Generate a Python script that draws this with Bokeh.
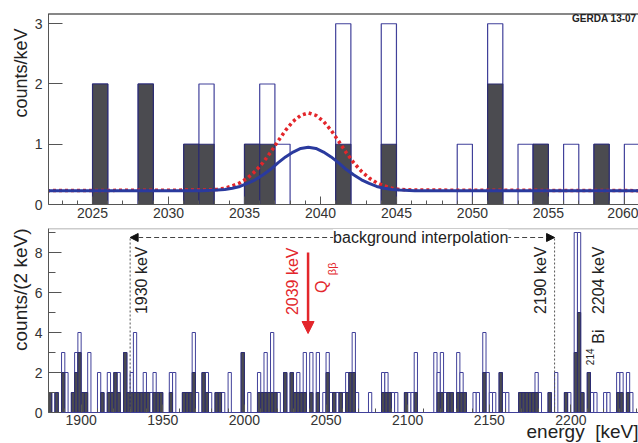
import numpy as np
from bokeh.plotting import figure
from bokeh.models import Range1d, Label, Title, Arrow, NormalHead, Span, FixedTicker
from bokeh.layouts import column
from bokeh.embed import file_html
from bokeh.resources import INLINE

FONT = "Liberation Sans"
NB = "\u00a0"
ZW = "\u200b"

# ---------------- top panel data (1 keV bins) ----------------
top_lo = [2025, 2028, 2031, 2032, 2035, 2036, 2037, 2041, 2044, 2049, 2051, 2053, 2054, 2056, 2058, 2060]
top_open = [2, 2, 1, 2, 1, 2, 1, 3, 3, 1, 3, 1, 1, 1, 1, 1]
top_filled = [2, 2, 1, 1, 1, 1, 0, 1, 1, 0, 2, 0, 1, 0, 1, 0]

curve_e = [2022.0, 2032.2, 2033.2, 2033.7, 2034.2, 2034.7, 2035.2, 2035.7, 2036.2, 2036.7,
           2037.2, 2037.7, 2038.2, 2038.7, 2039.2, 2039.7, 2040.2, 2040.7, 2041.2, 2041.7,
           2042.2, 2042.7, 2043.2, 2043.7, 2044.2, 2044.7, 2045.2, 2046.2, 2061.0]
curve_fit = [0.23, 0.23, 0.24, 0.25, 0.27, 0.30, 0.35, 0.41, 0.49, 0.58, 0.69, 0.79, 0.87, 0.93, 0.95,
             0.93, 0.87, 0.79, 0.69, 0.58, 0.49, 0.41, 0.35, 0.30, 0.27, 0.25, 0.24, 0.23, 0.23]
curve_limit = [0.23, 0.24, 0.25, 0.27, 0.31, 0.36, 0.44, 0.55, 0.69, 0.86, 1.05, 1.23, 1.38, 1.48, 1.52,
               1.48, 1.38, 1.23, 1.05, 0.86, 0.69, 0.55, 0.44, 0.36, 0.31, 0.27, 0.25, 0.24, 0.23]

top_xticks = [2025, 2030, 2035, 2040, 2045, 2050, 2055, 2060]
top_yticks = [0, 1, 2, 3]

# ---------------- bottom panel data (2 keV bins) ----------------
bot_lo = [1880, 1882, 1884, 1888, 1890, 1894, 1896, 1898, 1900, 1902, 1904, 1910, 1912, 1916, 1918,
          1920, 1922, 1926, 1928, 1930, 1932, 1934, 1936, 1938, 1940, 1942, 1944, 1946, 1948, 1954,
          1956, 1962, 1964, 1966, 1968, 1970, 1974, 1976, 1978, 1982, 1984, 1986, 1990, 1998, 2002,
          2008, 2010, 2012, 2014, 2016, 2018, 2020, 2024, 2028, 2030, 2032, 2034, 2036, 2040, 2044,
          2048, 2050, 2052, 2054, 2056, 2058, 2060, 2062, 2064, 2066, 2068, 2076, 2084, 2086, 2088,
          2090, 2092, 2098, 2100, 2102, 2104, 2116, 2118, 2120, 2122, 2124, 2126, 2130, 2132, 2134,
          2140, 2142, 2146, 2148, 2150, 2152, 2156, 2158, 2160, 2168, 2170, 2172, 2174, 2176, 2178,
          2180, 2186, 2190, 2196, 2198, 2202, 2204, 2206, 2210, 2212, 2214, 2220, 2222, 2228, 2230,
          2234, 2236]
bot_open = [1, 1, 1, 3, 2, 1, 3, 4, 1, 1, 3, 2, 1, 2, 1,
            2, 2, 3, 1, 2, 4, 1, 1, 2, 1, 1, 2, 1, 1, 2,
            2, 1, 1, 1, 4, 1, 2, 2, 1, 1, 1, 1, 2, 3, 1,
            2, 1, 3, 1, 4, 1, 1, 2, 2, 1, 2, 1, 3, 3, 3,
            1, 3, 1, 1, 1, 1, 1, 2, 2, 4, 1, 1, 2, 2, 1,
            1, 1, 1, 1, 1, 3, 3, 2, 3, 1, 1, 1, 3, 2, 1,
            1, 1, 4, 2, 1, 1, 2, 1, 1, 1, 1, 1, 1, 1, 2,
            1, 1, 2, 1, 1, 9, 9, 1, 2, 1, 1, 1, 1, 2, 2,
            2, 1]
bot_filled = [1, 0, 1, 2, 0, 1, 2, 3, 1, 1, 0, 0, 1, 1, 1,
              2, 1, 3, 1, 1, 1, 1, 1, 1, 1, 0, 1, 1, 1, 1,
              0, 1, 1, 1, 2, 0, 2, 1, 0, 1, 1, 0, 0, 3, 0,
              1, 1, 1, 1, 1, 1, 0, 2, 2, 1, 1, 1, 1, 1, 1,
              0, 2, 0, 1, 0, 1, 0, 1, 2, 2, 0, 0, 1, 1, 1,
              0, 0, 1, 0, 0, 1, 0, 1, 1, 0, 1, 1, 1, 1, 1,
              0, 0, 2, 0, 0, 0, 2, 0, 0, 1, 1, 1, 1, 1, 1,
              0, 1, 0, 1, 0, 3, 5, 1, 2, 0, 0, 0, 0, 1, 1,
              1, 0]

bot_xticks = [1900, 1950, 2000, 2050, 2100, 2150, 2200]
bot_yticks = [0, 2, 4, 6, 8]

OPEN_LINE = "#40409a"
FILL_COL = "#4b4b50"
FILL_LINE = "#2c2c70"
BLUE = "#2a3a9e"
RED = "#e3262b"

TOP_X = (2022.1, 2060.93)
TOP_Y = (0, 3.17)
BOT_X = (1880, 2241.4)
BOT_Y = (0, 9.2)


def style(p):
    p.xgrid.visible = False
    p.ygrid.visible = False
    p.background_fill_color = "white"
    p.border_fill_color = "white"
    p.outline_line_color = None
    for ax in (p.xaxis[0], p.yaxis[0]):
        ax.major_label_text_font = FONT
        ax.major_label_text_font_size = "14px"
        ax.major_label_text_color = "#333333"
        ax.major_tick_out = 0
        ax.minor_tick_out = 0
        ax.axis_line_color = "#555555"
        ax.major_tick_line_color = "#555555"
        ax.minor_tick_line_color = "#555555"


def draw_hist(p, lo, op, fi, width, lw):
    lo = np.array(lo, dtype=float)
    op = np.array(op, dtype=float)
    fi = np.array(fi, dtype=float)
    p.quad(left=lo, right=lo + width, bottom=0, top=op, fill_color="white",
           line_color=OPEN_LINE, line_width=lw)
    m = fi > 0
    p.quad(left=lo[m], right=lo[m] + width, bottom=0, top=fi[m], fill_color=FILL_COL,
           line_color=FILL_LINE, line_width=lw)


# ================= top figure =================
p1 = figure(width=638, height=223, x_range=Range1d(*TOP_X), y_range=Range1d(*TOP_Y),
            output_backend="svg", toolbar_location=None,
            min_border_left=48, min_border_right=0, min_border_top=13, min_border_bottom=19)
style(p1)
draw_hist(p1, top_lo, top_open, top_filled, 1, 1.2)
p1.line(curve_e, curve_limit, line_color=RED, line_width=3.5, line_dash="3 3")
p1.line(curve_e, curve_fit, line_color=BLUE, line_width=3)

p1.xaxis.ticker = FixedTicker(ticks=top_xticks, minor_ticks=list(range(2023, 2061)))
p1.xaxis.major_tick_in = 8
p1.xaxis.minor_tick_in = 4
p1.xaxis.major_label_standoff = 3
p1.yaxis.ticker = FixedTicker(ticks=top_yticks, minor_ticks=[])
p1.yaxis.major_tick_in = 14
p1.yaxis.major_label_standoff = 6
p1.add_layout(Span(location=TOP_Y[1], dimension="width", line_color="#111111", line_width=2))
p1.add_layout(Title(text="counts/keV" + NB * 3 + ZW, align="right", text_font=FONT,
                    text_font_size="18px", text_font_style="normal", text_color="#222222",
                    standoff=2), "left")
p1.add_layout(Label(x=2060.8, y=3.09, text="GERDA 13-07", text_font=FONT, text_font_size="10px",
                    text_font_style="bold", text_color="#222222", text_baseline="middle",
                    text_align="right"))

# ================= bottom figure =================
p2 = figure(width=638, height=220, x_range=Range1d(*BOT_X), y_range=Range1d(*BOT_Y),
            output_backend="svg", toolbar_location=None,
            min_border_left=48, min_border_right=0, min_border_top=5, min_border_bottom=31)
style(p2)
draw_hist(p2, bot_lo, bot_open, bot_filled, 2, 1)

xa = p2.xaxis[0]
xa.ticker = FixedTicker(ticks=bot_xticks, minor_ticks=list(range(1890, 2250, 10)))
xa.major_tick_in = 8
xa.minor_tick_in = 4
xa.major_label_standoff = 2
xa.axis_line_color = "#40409a"

p2.yaxis.ticker = FixedTicker(ticks=bot_yticks, minor_ticks=[1, 3, 5, 7, 9])
p2.yaxis.major_tick_in = 13
p2.yaxis.minor_tick_in = 7
p2.yaxis.major_label_standoff = 6
p2.add_layout(Span(location=BOT_Y[1], dimension="width", line_color="#999999", line_width=1.5))
p2.add_layout(Title(text="counts/(2 keV)", align="right", text_font=FONT, text_font_size="19px",
                    text_font_style="normal", text_color="#222222", standoff=2), "left")
p2.add_layout(Title(text="energy" + NB + " [keV]", align="right", text_font=FONT,
                    text_font_size="19px", text_font_style="normal", text_color="#222222",
                    standoff=-17, vertical_align="bottom"), "below")

# vertical dotted markers
for xv in (1930, 2190):
    p2.line([xv, xv], [0, 8.75], line_color="#555555", line_width=1, line_dash="2 2")

# background interpolation arrow
p2.add_layout(Arrow(start=NormalHead(size=8, fill_color="#111111", line_color="#111111"),
                    end=NormalHead(size=8, fill_color="#111111", line_color="#111111"),
                    x_start=1930, y_start=8.75, x_end=2190, y_end=8.75,
                    line_color="#444444", line_width=1, line_dash="5 3"))
p2.add_layout(Label(x=2108, y=8.75, text="background interpolation", text_font=FONT,
                    text_font_size="16px", text_color="#222222", text_align="center",
                    text_baseline="middle", background_fill_color="white"))


def vlabel(x, y, txt, size="16px", color="#222222"):
    p2.add_layout(Label(x=x, y=y, text=txt, angle=np.pi / 2, text_font=FONT, text_font_size=size,
                        text_color=color, text_align="right", text_baseline="middle"))


vlabel(1937.0, 8.3, "1930 keV")
vlabel(2029.5, 8.25, "2039 keV", color=RED)
vlabel(2047.2, 6.6, "Q", color=RED)
vlabel(2053.6, 7.5, "ββ", size="11px", color=RED)
vlabel(2181.4, 8.3, "2190 keV")
vlabel(2216.7, 8.3, "2204 keV")
vlabel(2216.7, 4.15, "Bi")
vlabel(2211.8, 3.2, "214", size="10px")

p2.add_layout(Arrow(end=NormalHead(size=12, fill_color=RED, line_color=RED),
                    x_start=2039, y_start=8.0, x_end=2039, y_end=3.95,
                    line_color=RED, line_width=2.5))

layout = column(p1, p2)
open("out.html", "w").write(file_html(layout, INLINE))
